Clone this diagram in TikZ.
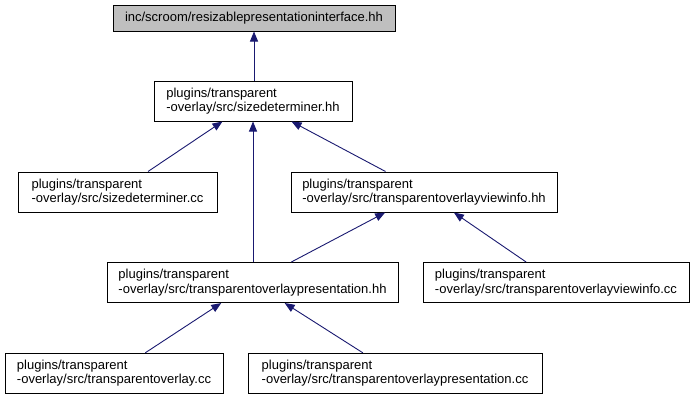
\documentclass[tikz,border=0pt]{standalone}
\usepackage{fontspec}
\setmainfont{Liberation Sans}
\usetikzlibrary{arrows.meta}
\definecolor{edgeblue}{RGB}{25,25,112}
\definecolor{nodegray}{RGB}{191,191,191}
\tikzset{
  filebox/.style={draw=black, line width=1pt, rectangle, align=left,
    inner xsep=2pt, inner ysep=1pt, minimum height=40pt,
    font=\fontsize{13}{14.6}\selectfont},
  rootbox/.style={filebox, fill=nodegray, minimum height=26pt},
  dep/.style={draw=edgeblue, line width=0.9pt,
    -{Triangle[length=10pt,width=8pt]}, color=edgeblue}
}
\begin{document}
\begin{tikzpicture}[x=1pt,y=-1pt]
\useasboundingbox (0,0) rectangle (695,400);
\node[rootbox, minimum width=282pt] (n1) at (254,18) {inc/scroom/resizablepresentationinterface.hh};
\node[filebox, minimum width=198pt] (n2) at (253,101) {plugins/transparent\\-overlay/src/sizedeterminer.hh};
\node[filebox, minimum width=199pt] (n3) at (117.5,192) {plugins/transparent\\-overlay/src/sizedeterminer.cc};
\node[filebox, minimum width=266pt] (n4) at (424,192) {plugins/transparent\\-overlay/src/transparentoverlayviewinfo.hh};
\node[filebox, minimum width=291pt] (n5) at (252.5,282.5) {plugins/transparent\\-overlay/src/transparentoverlaypresentation.hh};
\node[filebox, minimum width=266pt] (n6) at (556,282.5) {plugins/transparent\\-overlay/src/transparentoverlayviewinfo.cc};
\node[filebox, minimum width=218pt] (n7) at (114,373.3) {plugins/transparent\\-overlay/src/transparentoverlay.cc};
\node[filebox, minimum width=294pt] (n8) at (395,373.3) {plugins/transparent\\-overlay/src/transparentoverlaypresentation.cc};
\draw[dep] (n2.north -| n1.south) -- (n1.south);
\draw[dep] (n3) -- (n2);
\draw[dep] (n5.north -| n2.south) -- (n2.south);
\draw[dep] (n4) -- (n2);
\draw[dep] (n5) -- (n4);
\draw[dep] (n6) -- (n4);
\draw[dep] (n7) -- (n5);
\draw[dep] (n8) -- (n5);
\end{tikzpicture}
\end{document}
